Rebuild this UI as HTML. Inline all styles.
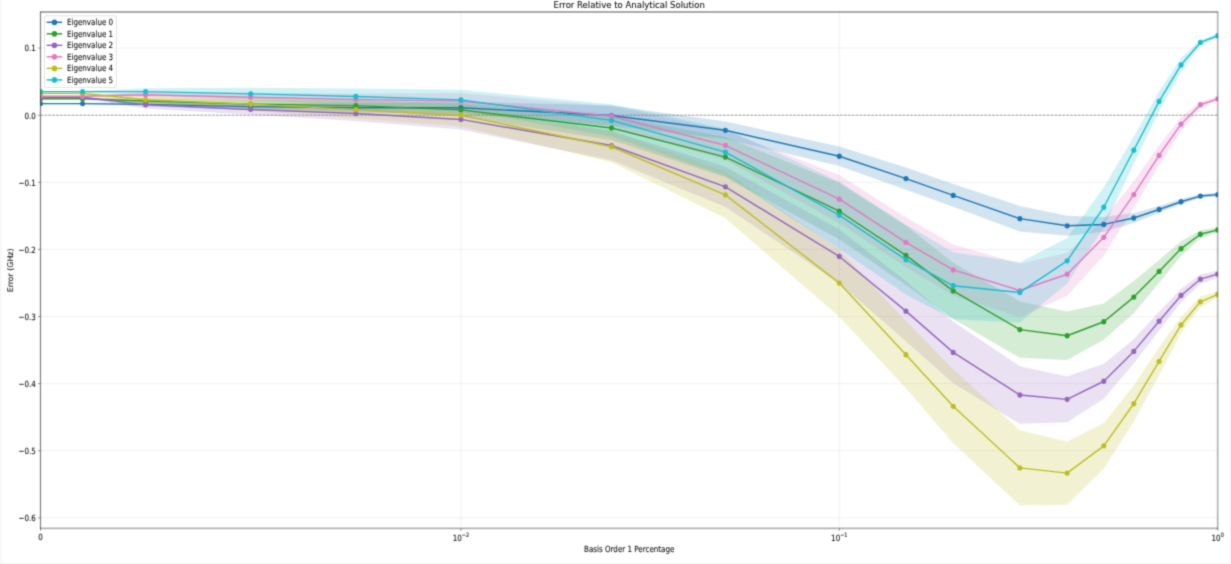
<!DOCTYPE html>
<html><head><meta charset="utf-8"><style>html,body{margin:0;padding:0;background:#fff;}svg{display:block;}</style></head>
<body><svg width="1231" height="564" viewBox="0 0 1231 564">
<defs><filter id="bl" filterUnits="userSpaceOnUse" x="0" y="0" width="1231" height="564" color-interpolation-filters="sRGB"><feConvolveMatrix order="5" kernelMatrix="0.00001 0.00096 0.00387 0.00096 0.00001 0.00096 0.06218 0.24935 0.06218 0.00096 0.00387 0.24935 1.00000 0.24935 0.00387 0.00096 0.06218 0.24935 0.06218 0.00096 0.00001 0.00096 0.00387 0.00096 0.00001" edgeMode="duplicate"/></filter></defs>
<g filter="url(#bl)">
<rect width="1231" height="564" fill="#fff"/>
<path d="M0.9 0V564M1230.4 0V564M0 563.4H1231" stroke="#f6f6f6" stroke-width="1.5" fill="none"/>
<defs><clipPath id="ax"><rect x="40.5" y="12.0" width="1177.2" height="516.3"/></clipPath></defs>
<path d="M40.5 48.10H1217.7 M40.5 115.20H1217.7 M40.5 182.30H1217.7 M40.5 249.40H1217.7 M40.5 316.50H1217.7 M40.5 383.60H1217.7 M40.5 450.70H1217.7 M40.5 517.80H1217.7 M460.93 12.0V528.3 M839.31 12.0V528.3" stroke="#b0b0b0" stroke-opacity="0.3" stroke-width="0.6" fill="none"/>
<g clip-path="url(#ax)">
<path d="M40.50 102.92 L82.54 102.92 L145.61 102.32 L250.71 103.26 L355.82 103.12 L460.93 101.65 L611.50 105.47 L725.41 121.57 L839.31 146.54 L905.94 167.54 L953.22 183.98 L1019.85 205.92 L1067.13 215.72 L1103.79 217.06 L1133.76 212.96 L1159.09 206.12 L1181.03 199.07 L1200.39 194.04 L1217.70 192.63 L1217.70 196.66 L1200.39 198.07 L1181.03 204.44 L1159.09 212.83 L1133.76 223.03 L1103.79 231.82 L1067.13 235.85 L1019.85 231.42 L953.22 206.79 L905.94 189.68 L839.31 165.99 L725.41 139.02 L611.50 125.60 L460.93 113.72 L355.82 112.52 L250.71 109.97 L145.61 106.34 L82.54 104.26 L40.50 104.26Z" fill="#1f77b4" fill-opacity="0.2"/>
<path d="M40.50 98.09 L82.54 98.09 L145.61 98.29 L250.71 100.10 L355.82 100.30 L460.93 103.19 L611.50 115.87 L725.41 136.94 L839.31 183.04 L905.94 225.85 L953.22 262.75 L1019.85 301.40 L1067.13 311.60 L1103.79 303.62 L1133.76 281.00 L1159.09 260.00 L1181.03 241.28 L1200.39 230.21 L1217.70 227.26 L1217.70 232.62 L1200.39 238.26 L1181.03 256.04 L1159.09 282.82 L1133.76 313.21 L1103.79 339.85 L1067.13 359.91 L1019.85 357.77 L953.22 319.12 L905.94 284.90 L839.31 239.40 L725.41 177.20 L611.50 140.03 L460.93 116.61 L355.82 111.04 L250.71 108.15 L145.61 103.66 L82.54 99.43 L40.50 99.43Z" fill="#2ca02c" fill-opacity="0.2"/>
<path d="M40.50 96.61 L82.54 96.61 L145.61 101.11 L250.71 104.06 L355.82 106.14 L460.93 109.36 L611.50 130.77 L725.41 166.67 L839.31 229.61 L905.94 280.94 L953.22 321.53 L1019.85 366.15 L1067.13 376.55 L1103.79 363.81 L1133.76 339.31 L1159.09 311.80 L1181.03 288.79 L1200.39 274.50 L1217.70 270.74 L1217.70 277.45 L1200.39 283.89 L1181.03 302.21 L1159.09 330.59 L1133.76 363.47 L1103.79 398.70 L1067.13 422.18 L1019.85 423.86 L953.22 383.26 L905.94 341.33 L839.31 283.29 L725.41 206.93 L611.50 160.29 L460.93 129.49 L355.82 120.90 L250.71 114.80 L145.61 108.49 L82.54 97.96 L40.50 97.96Z" fill="#9467bd" fill-opacity="0.2"/>
<path d="M40.50 95.61 L82.54 95.61 L145.61 92.05 L250.71 92.52 L355.82 93.53 L460.93 93.06 L611.50 106.21 L725.41 130.57 L839.31 175.05 L905.94 217.53 L953.22 244.43 L1019.85 263.69 L1067.13 252.75 L1103.79 219.20 L1133.76 181.29 L1159.09 145.33 L1181.03 117.41 L1200.39 101.38 L1217.70 96.81 L1217.70 100.84 L1200.39 108.09 L1181.03 130.83 L1159.09 165.46 L1133.76 208.13 L1103.79 255.44 L1067.13 295.70 L1019.85 317.37 L953.22 295.43 L905.94 267.18 L839.31 223.37 L725.41 160.09 L611.50 126.34 L460.93 109.16 L355.82 105.60 L250.71 101.91 L145.61 97.42 L82.54 96.95 L40.50 96.95Z" fill="#e377c2" fill-opacity="0.2"/>
<path d="M40.50 92.72 L82.54 92.72 L145.61 95.07 L250.71 97.42 L355.82 100.91 L460.93 103.79 L611.50 131.30 L725.41 171.36 L839.31 249.53 L905.94 321.20 L953.22 369.37 L1019.85 430.30 L1067.13 441.57 L1103.79 423.05 L1133.76 385.61 L1159.09 347.37 L1181.03 316.90 L1200.39 296.44 L1217.70 291.07 L1217.70 297.78 L1200.39 307.17 L1181.03 333.01 L1159.09 375.55 L1133.76 421.85 L1103.79 468.68 L1067.13 504.65 L1019.85 505.45 L953.22 443.18 L905.94 388.30 L839.31 316.63 L725.41 218.33 L611.50 162.17 L460.93 126.61 L355.82 118.35 L250.71 110.84 L145.61 104.46 L82.54 94.06 L40.50 94.06Z" fill="#bcbd22" fill-opacity="0.2"/>
<path d="M40.50 90.91 L82.54 90.91 L145.61 88.23 L250.71 87.82 L355.82 88.43 L460.93 89.77 L611.50 104.33 L725.41 128.69 L839.31 181.63 L905.94 224.77 L953.22 252.22 L1019.85 262.22 L1067.13 237.99 L1103.79 187.13 L1133.76 136.81 L1159.09 91.38 L1181.03 58.17 L1200.39 39.78 L1217.70 33.74 L1217.70 37.77 L1200.39 45.15 L1181.03 71.59 L1159.09 111.51 L1133.76 163.65 L1103.79 227.39 L1067.13 283.62 L1019.85 322.61 L953.22 319.32 L905.94 294.56 L839.31 248.73 L725.41 175.66 L611.50 136.54 L460.93 109.90 L355.82 104.53 L250.71 99.90 L145.61 94.94 L82.54 92.25 L40.50 92.25Z" fill="#17becf" fill-opacity="0.2"/>
<path d="M40.5 115.20H1217.7" stroke="#808080" stroke-width="0.75" stroke-dasharray="2.7 1.2" fill="none"/>
<path d="M40.50 103.59 L82.54 103.59 L145.61 104.33 L250.71 106.61 L355.82 107.82 L460.93 107.68 L611.50 115.54 L725.41 130.30 L839.31 156.27 L905.94 178.61 L953.22 195.38 L1019.85 218.67 L1067.13 225.78 L1103.79 224.44 L1133.76 218.00 L1159.09 209.48 L1181.03 201.76 L1200.39 196.06 L1217.70 194.65" stroke="#1f77b4" stroke-width="1.4" fill="none" stroke-linejoin="round"/>
<ellipse cx="40.50" cy="103.59" rx="2.5" ry="2.65" fill="#1f77b4"/>
<ellipse cx="82.54" cy="103.59" rx="2.5" ry="2.65" fill="#1f77b4"/>
<ellipse cx="145.61" cy="104.33" rx="2.5" ry="2.65" fill="#1f77b4"/>
<ellipse cx="250.71" cy="106.61" rx="2.5" ry="2.65" fill="#1f77b4"/>
<ellipse cx="355.82" cy="107.82" rx="2.5" ry="2.65" fill="#1f77b4"/>
<ellipse cx="460.93" cy="107.68" rx="2.5" ry="2.65" fill="#1f77b4"/>
<ellipse cx="611.50" cy="115.54" rx="2.5" ry="2.65" fill="#1f77b4"/>
<ellipse cx="725.41" cy="130.30" rx="2.5" ry="2.65" fill="#1f77b4"/>
<ellipse cx="839.31" cy="156.27" rx="2.5" ry="2.65" fill="#1f77b4"/>
<ellipse cx="905.94" cy="178.61" rx="2.5" ry="2.65" fill="#1f77b4"/>
<ellipse cx="953.22" cy="195.38" rx="2.5" ry="2.65" fill="#1f77b4"/>
<ellipse cx="1019.85" cy="218.67" rx="2.5" ry="2.65" fill="#1f77b4"/>
<ellipse cx="1067.13" cy="225.78" rx="2.5" ry="2.65" fill="#1f77b4"/>
<ellipse cx="1103.79" cy="224.44" rx="2.5" ry="2.65" fill="#1f77b4"/>
<ellipse cx="1133.76" cy="218.00" rx="2.5" ry="2.65" fill="#1f77b4"/>
<ellipse cx="1159.09" cy="209.48" rx="2.5" ry="2.65" fill="#1f77b4"/>
<ellipse cx="1181.03" cy="201.76" rx="2.5" ry="2.65" fill="#1f77b4"/>
<ellipse cx="1200.39" cy="196.06" rx="2.5" ry="2.65" fill="#1f77b4"/>
<ellipse cx="1217.70" cy="194.65" rx="2.5" ry="2.65" fill="#1f77b4"/>
<path d="M40.50 98.76 L82.54 98.76 L145.61 100.97 L250.71 104.13 L355.82 105.67 L460.93 109.90 L611.50 127.95 L725.41 157.07 L839.31 211.22 L905.94 255.37 L953.22 290.93 L1019.85 329.58 L1067.13 335.76 L1103.79 321.73 L1133.76 297.11 L1159.09 271.41 L1181.03 248.66 L1200.39 234.24 L1217.70 229.94" stroke="#2ca02c" stroke-width="1.4" fill="none" stroke-linejoin="round"/>
<ellipse cx="40.50" cy="98.76" rx="2.5" ry="2.65" fill="#2ca02c"/>
<ellipse cx="82.54" cy="98.76" rx="2.5" ry="2.65" fill="#2ca02c"/>
<ellipse cx="145.61" cy="100.97" rx="2.5" ry="2.65" fill="#2ca02c"/>
<ellipse cx="250.71" cy="104.13" rx="2.5" ry="2.65" fill="#2ca02c"/>
<ellipse cx="355.82" cy="105.67" rx="2.5" ry="2.65" fill="#2ca02c"/>
<ellipse cx="460.93" cy="109.90" rx="2.5" ry="2.65" fill="#2ca02c"/>
<ellipse cx="611.50" cy="127.95" rx="2.5" ry="2.65" fill="#2ca02c"/>
<ellipse cx="725.41" cy="157.07" rx="2.5" ry="2.65" fill="#2ca02c"/>
<ellipse cx="839.31" cy="211.22" rx="2.5" ry="2.65" fill="#2ca02c"/>
<ellipse cx="905.94" cy="255.37" rx="2.5" ry="2.65" fill="#2ca02c"/>
<ellipse cx="953.22" cy="290.93" rx="2.5" ry="2.65" fill="#2ca02c"/>
<ellipse cx="1019.85" cy="329.58" rx="2.5" ry="2.65" fill="#2ca02c"/>
<ellipse cx="1067.13" cy="335.76" rx="2.5" ry="2.65" fill="#2ca02c"/>
<ellipse cx="1103.79" cy="321.73" rx="2.5" ry="2.65" fill="#2ca02c"/>
<ellipse cx="1133.76" cy="297.11" rx="2.5" ry="2.65" fill="#2ca02c"/>
<ellipse cx="1159.09" cy="271.41" rx="2.5" ry="2.65" fill="#2ca02c"/>
<ellipse cx="1181.03" cy="248.66" rx="2.5" ry="2.65" fill="#2ca02c"/>
<ellipse cx="1200.39" cy="234.24" rx="2.5" ry="2.65" fill="#2ca02c"/>
<ellipse cx="1217.70" cy="229.94" rx="2.5" ry="2.65" fill="#2ca02c"/>
<path d="M40.50 97.28 L82.54 97.28 L145.61 104.80 L250.71 109.43 L355.82 113.52 L460.93 119.43 L611.50 145.53 L725.41 186.80 L839.31 256.45 L905.94 311.13 L953.22 352.40 L1019.85 395.01 L1067.13 399.37 L1103.79 381.25 L1133.76 351.39 L1159.09 321.20 L1181.03 295.50 L1200.39 279.19 L1217.70 274.09" stroke="#9467bd" stroke-width="1.4" fill="none" stroke-linejoin="round"/>
<ellipse cx="40.50" cy="97.28" rx="2.5" ry="2.65" fill="#9467bd"/>
<ellipse cx="82.54" cy="97.28" rx="2.5" ry="2.65" fill="#9467bd"/>
<ellipse cx="145.61" cy="104.80" rx="2.5" ry="2.65" fill="#9467bd"/>
<ellipse cx="250.71" cy="109.43" rx="2.5" ry="2.65" fill="#9467bd"/>
<ellipse cx="355.82" cy="113.52" rx="2.5" ry="2.65" fill="#9467bd"/>
<ellipse cx="460.93" cy="119.43" rx="2.5" ry="2.65" fill="#9467bd"/>
<ellipse cx="611.50" cy="145.53" rx="2.5" ry="2.65" fill="#9467bd"/>
<ellipse cx="725.41" cy="186.80" rx="2.5" ry="2.65" fill="#9467bd"/>
<ellipse cx="839.31" cy="256.45" rx="2.5" ry="2.65" fill="#9467bd"/>
<ellipse cx="905.94" cy="311.13" rx="2.5" ry="2.65" fill="#9467bd"/>
<ellipse cx="953.22" cy="352.40" rx="2.5" ry="2.65" fill="#9467bd"/>
<ellipse cx="1019.85" cy="395.01" rx="2.5" ry="2.65" fill="#9467bd"/>
<ellipse cx="1067.13" cy="399.37" rx="2.5" ry="2.65" fill="#9467bd"/>
<ellipse cx="1103.79" cy="381.25" rx="2.5" ry="2.65" fill="#9467bd"/>
<ellipse cx="1133.76" cy="351.39" rx="2.5" ry="2.65" fill="#9467bd"/>
<ellipse cx="1159.09" cy="321.20" rx="2.5" ry="2.65" fill="#9467bd"/>
<ellipse cx="1181.03" cy="295.50" rx="2.5" ry="2.65" fill="#9467bd"/>
<ellipse cx="1200.39" cy="279.19" rx="2.5" ry="2.65" fill="#9467bd"/>
<ellipse cx="1217.70" cy="274.09" rx="2.5" ry="2.65" fill="#9467bd"/>
<path d="M40.50 96.28 L82.54 96.28 L145.61 94.73 L250.71 97.22 L355.82 99.57 L460.93 101.11 L611.50 116.27 L725.41 145.33 L839.31 199.21 L905.94 242.35 L953.22 269.93 L1019.85 290.53 L1067.13 274.23 L1103.79 237.32 L1133.76 194.71 L1159.09 155.39 L1181.03 124.12 L1200.39 104.73 L1217.70 98.83" stroke="#e377c2" stroke-width="1.4" fill="none" stroke-linejoin="round"/>
<ellipse cx="40.50" cy="96.28" rx="2.5" ry="2.65" fill="#e377c2"/>
<ellipse cx="82.54" cy="96.28" rx="2.5" ry="2.65" fill="#e377c2"/>
<ellipse cx="145.61" cy="94.73" rx="2.5" ry="2.65" fill="#e377c2"/>
<ellipse cx="250.71" cy="97.22" rx="2.5" ry="2.65" fill="#e377c2"/>
<ellipse cx="355.82" cy="99.57" rx="2.5" ry="2.65" fill="#e377c2"/>
<ellipse cx="460.93" cy="101.11" rx="2.5" ry="2.65" fill="#e377c2"/>
<ellipse cx="611.50" cy="116.27" rx="2.5" ry="2.65" fill="#e377c2"/>
<ellipse cx="725.41" cy="145.33" rx="2.5" ry="2.65" fill="#e377c2"/>
<ellipse cx="839.31" cy="199.21" rx="2.5" ry="2.65" fill="#e377c2"/>
<ellipse cx="905.94" cy="242.35" rx="2.5" ry="2.65" fill="#e377c2"/>
<ellipse cx="953.22" cy="269.93" rx="2.5" ry="2.65" fill="#e377c2"/>
<ellipse cx="1019.85" cy="290.53" rx="2.5" ry="2.65" fill="#e377c2"/>
<ellipse cx="1067.13" cy="274.23" rx="2.5" ry="2.65" fill="#e377c2"/>
<ellipse cx="1103.79" cy="237.32" rx="2.5" ry="2.65" fill="#e377c2"/>
<ellipse cx="1133.76" cy="194.71" rx="2.5" ry="2.65" fill="#e377c2"/>
<ellipse cx="1159.09" cy="155.39" rx="2.5" ry="2.65" fill="#e377c2"/>
<ellipse cx="1181.03" cy="124.12" rx="2.5" ry="2.65" fill="#e377c2"/>
<ellipse cx="1200.39" cy="104.73" rx="2.5" ry="2.65" fill="#e377c2"/>
<ellipse cx="1217.70" cy="98.83" rx="2.5" ry="2.65" fill="#e377c2"/>
<path d="M40.50 93.39 L82.54 93.39 L145.61 99.77 L250.71 104.13 L355.82 109.63 L460.93 115.20 L611.50 146.74 L725.41 194.85 L839.31 283.08 L905.94 354.75 L953.22 406.28 L1019.85 467.88 L1067.13 473.11 L1103.79 445.87 L1133.76 403.73 L1159.09 361.46 L1181.03 324.95 L1200.39 301.81 L1217.70 294.42" stroke="#bcbd22" stroke-width="1.4" fill="none" stroke-linejoin="round"/>
<ellipse cx="40.50" cy="93.39" rx="2.5" ry="2.65" fill="#bcbd22"/>
<ellipse cx="82.54" cy="93.39" rx="2.5" ry="2.65" fill="#bcbd22"/>
<ellipse cx="145.61" cy="99.77" rx="2.5" ry="2.65" fill="#bcbd22"/>
<ellipse cx="250.71" cy="104.13" rx="2.5" ry="2.65" fill="#bcbd22"/>
<ellipse cx="355.82" cy="109.63" rx="2.5" ry="2.65" fill="#bcbd22"/>
<ellipse cx="460.93" cy="115.20" rx="2.5" ry="2.65" fill="#bcbd22"/>
<ellipse cx="611.50" cy="146.74" rx="2.5" ry="2.65" fill="#bcbd22"/>
<ellipse cx="725.41" cy="194.85" rx="2.5" ry="2.65" fill="#bcbd22"/>
<ellipse cx="839.31" cy="283.08" rx="2.5" ry="2.65" fill="#bcbd22"/>
<ellipse cx="905.94" cy="354.75" rx="2.5" ry="2.65" fill="#bcbd22"/>
<ellipse cx="953.22" cy="406.28" rx="2.5" ry="2.65" fill="#bcbd22"/>
<ellipse cx="1019.85" cy="467.88" rx="2.5" ry="2.65" fill="#bcbd22"/>
<ellipse cx="1067.13" cy="473.11" rx="2.5" ry="2.65" fill="#bcbd22"/>
<ellipse cx="1103.79" cy="445.87" rx="2.5" ry="2.65" fill="#bcbd22"/>
<ellipse cx="1133.76" cy="403.73" rx="2.5" ry="2.65" fill="#bcbd22"/>
<ellipse cx="1159.09" cy="361.46" rx="2.5" ry="2.65" fill="#bcbd22"/>
<ellipse cx="1181.03" cy="324.95" rx="2.5" ry="2.65" fill="#bcbd22"/>
<ellipse cx="1200.39" cy="301.81" rx="2.5" ry="2.65" fill="#bcbd22"/>
<ellipse cx="1217.70" cy="294.42" rx="2.5" ry="2.65" fill="#bcbd22"/>
<path d="M40.50 91.58 L82.54 91.58 L145.61 91.58 L250.71 93.86 L355.82 96.48 L460.93 99.83 L611.50 120.43 L725.41 152.17 L839.31 215.18 L905.94 259.67 L953.22 285.77 L1019.85 292.41 L1067.13 260.81 L1103.79 207.26 L1133.76 150.23 L1159.09 101.44 L1181.03 64.88 L1200.39 42.46 L1217.70 35.75" stroke="#17becf" stroke-width="1.4" fill="none" stroke-linejoin="round"/>
<ellipse cx="40.50" cy="91.58" rx="2.5" ry="2.65" fill="#17becf"/>
<ellipse cx="82.54" cy="91.58" rx="2.5" ry="2.65" fill="#17becf"/>
<ellipse cx="145.61" cy="91.58" rx="2.5" ry="2.65" fill="#17becf"/>
<ellipse cx="250.71" cy="93.86" rx="2.5" ry="2.65" fill="#17becf"/>
<ellipse cx="355.82" cy="96.48" rx="2.5" ry="2.65" fill="#17becf"/>
<ellipse cx="460.93" cy="99.83" rx="2.5" ry="2.65" fill="#17becf"/>
<ellipse cx="611.50" cy="120.43" rx="2.5" ry="2.65" fill="#17becf"/>
<ellipse cx="725.41" cy="152.17" rx="2.5" ry="2.65" fill="#17becf"/>
<ellipse cx="839.31" cy="215.18" rx="2.5" ry="2.65" fill="#17becf"/>
<ellipse cx="905.94" cy="259.67" rx="2.5" ry="2.65" fill="#17becf"/>
<ellipse cx="953.22" cy="285.77" rx="2.5" ry="2.65" fill="#17becf"/>
<ellipse cx="1019.85" cy="292.41" rx="2.5" ry="2.65" fill="#17becf"/>
<ellipse cx="1067.13" cy="260.81" rx="2.5" ry="2.65" fill="#17becf"/>
<ellipse cx="1103.79" cy="207.26" rx="2.5" ry="2.65" fill="#17becf"/>
<ellipse cx="1133.76" cy="150.23" rx="2.5" ry="2.65" fill="#17becf"/>
<ellipse cx="1159.09" cy="101.44" rx="2.5" ry="2.65" fill="#17becf"/>
<ellipse cx="1181.03" cy="64.88" rx="2.5" ry="2.65" fill="#17becf"/>
<ellipse cx="1200.39" cy="42.46" rx="2.5" ry="2.65" fill="#17becf"/>
<ellipse cx="1217.70" cy="35.75" rx="2.5" ry="2.65" fill="#17becf"/>
</g>
<path d="M40.5 12.0H1217.7" stroke="#000" stroke-opacity="0.45" stroke-width="1.3"/>
<path d="M40.5 11.4V528.9" stroke="#000" stroke-opacity="0.5" stroke-width="1.2"/>
<path d="M1217.7 11.4V528.9" stroke="#000" stroke-opacity="0.28" stroke-width="1.8"/>
<path d="M40.5 528.3H1217.7" stroke="#000" stroke-opacity="0.3" stroke-width="1.8"/>
<path d="M38.0 48.10H40.5 M38.0 115.20H40.5 M38.0 182.30H40.5 M38.0 249.40H40.5 M38.0 316.50H40.5 M38.0 383.60H40.5 M38.0 450.70H40.5 M38.0 517.80H40.5 M40.50 528.3V530.8 M460.93 528.3V530.8 M839.31 528.3V530.8 M1217.70 528.3V530.8" stroke="#000" stroke-opacity="0.5" stroke-width="0.8" fill="none"/>
<text transform="translate(35.80 51.40) scale(1 1.1990)" font-size="7.15" font-family="'DejaVu Sans', 'Liberation Sans', sans-serif" stroke="#000" stroke-width="0.18" stroke-opacity="0.45" text-anchor="end" fill="#111">0.1</text>
<text transform="translate(35.80 118.50) scale(1 1.1990)" font-size="7.15" font-family="'DejaVu Sans', 'Liberation Sans', sans-serif" stroke="#000" stroke-width="0.18" stroke-opacity="0.45" text-anchor="end" fill="#111">0.0</text>
<text transform="translate(35.80 185.60) scale(1 1.1990)" font-size="7.15" font-family="'DejaVu Sans', 'Liberation Sans', sans-serif" stroke="#000" stroke-width="0.18" stroke-opacity="0.45" text-anchor="end" fill="#111">−0.1</text>
<text transform="translate(35.80 252.70) scale(1 1.1990)" font-size="7.15" font-family="'DejaVu Sans', 'Liberation Sans', sans-serif" stroke="#000" stroke-width="0.18" stroke-opacity="0.45" text-anchor="end" fill="#111">−0.2</text>
<text transform="translate(35.80 319.80) scale(1 1.1990)" font-size="7.15" font-family="'DejaVu Sans', 'Liberation Sans', sans-serif" stroke="#000" stroke-width="0.18" stroke-opacity="0.45" text-anchor="end" fill="#111">−0.3</text>
<text transform="translate(35.80 386.90) scale(1 1.1990)" font-size="7.15" font-family="'DejaVu Sans', 'Liberation Sans', sans-serif" stroke="#000" stroke-width="0.18" stroke-opacity="0.45" text-anchor="end" fill="#111">−0.4</text>
<text transform="translate(35.80 454.00) scale(1 1.1990)" font-size="7.15" font-family="'DejaVu Sans', 'Liberation Sans', sans-serif" stroke="#000" stroke-width="0.18" stroke-opacity="0.45" text-anchor="end" fill="#111">−0.5</text>
<text transform="translate(35.80 521.10) scale(1 1.1990)" font-size="7.15" font-family="'DejaVu Sans', 'Liberation Sans', sans-serif" stroke="#000" stroke-width="0.18" stroke-opacity="0.45" text-anchor="end" fill="#111">−0.6</text>
<text transform="translate(40.50 539.80) scale(1 1.1990)" font-size="7.15" font-family="'DejaVu Sans', 'Liberation Sans', sans-serif" stroke="#000" stroke-width="0.18" stroke-opacity="0.45" text-anchor="middle" fill="#111">0</text>
<text transform="translate(460.93 541.20) scale(1 1.1990)" font-size="7.15" font-family="'DejaVu Sans', 'Liberation Sans', sans-serif" stroke="#000" stroke-width="0.18" stroke-opacity="0.45" text-anchor="middle" fill="#111">10<tspan font-size="5.00" dy="-3.6">−2</tspan></text>
<text transform="translate(839.31 541.20) scale(1 1.1990)" font-size="7.15" font-family="'DejaVu Sans', 'Liberation Sans', sans-serif" stroke="#000" stroke-width="0.18" stroke-opacity="0.45" text-anchor="middle" fill="#111">10<tspan font-size="5.00" dy="-3.6">−1</tspan></text>
<text transform="translate(1217.70 541.20) scale(1 1.1990)" font-size="7.15" font-family="'DejaVu Sans', 'Liberation Sans', sans-serif" stroke="#000" stroke-width="0.18" stroke-opacity="0.45" text-anchor="middle" fill="#111">10<tspan font-size="5.00" dy="-3.6">0</tspan></text>
<text transform="translate(629.20 552.40) scale(1 1.1990)" font-size="7.15" font-family="'DejaVu Sans', 'Liberation Sans', sans-serif" stroke="#000" stroke-width="0.18" stroke-opacity="0.45" text-anchor="middle" fill="#111">Basis Order 1 Percentage</text>
<text transform="translate(13.10 270.40) scale(1.09 1.1)  rotate(-90)" font-size="7.15" font-family="'DejaVu Sans', 'Liberation Sans', sans-serif" stroke="#000" stroke-width="0.18" stroke-opacity="0.45" text-anchor="middle" fill="#111">Error (GHz)</text>
<text transform="translate(629.20 7.90) scale(1 1.1000)" font-size="8.55" font-family="'DejaVu Sans', 'Liberation Sans', sans-serif" stroke="#000" stroke-width="0.18" stroke-opacity="0.45" text-anchor="middle" fill="#111">Error Relative to Analytical Solution</text>
<rect x="44.6" y="15.8" width="71.8" height="71.6" rx="1.4" fill="#fff" fill-opacity="0.8" stroke="#ccc" stroke-width="0.6"/>
<path d="M46.7 22.30H62.2" stroke="#1f77b4" stroke-width="1.5"/>
<ellipse cx="54.45" cy="22.30" rx="2.75" ry="2.9" fill="#1f77b4"/>
<text transform="translate(66.90 25.05) scale(1 1.1990)" font-size="7.15" font-family="'DejaVu Sans', 'Liberation Sans', sans-serif" stroke="#000" stroke-width="0.18" stroke-opacity="0.45" fill="#111">Eigenvalue 0</text>
<path d="M46.7 33.82H62.2" stroke="#2ca02c" stroke-width="1.5"/>
<ellipse cx="54.45" cy="33.82" rx="2.75" ry="2.9" fill="#2ca02c"/>
<text transform="translate(66.90 36.57) scale(1 1.1990)" font-size="7.15" font-family="'DejaVu Sans', 'Liberation Sans', sans-serif" stroke="#000" stroke-width="0.18" stroke-opacity="0.45" fill="#111">Eigenvalue 1</text>
<path d="M46.7 45.34H62.2" stroke="#9467bd" stroke-width="1.5"/>
<ellipse cx="54.45" cy="45.34" rx="2.75" ry="2.9" fill="#9467bd"/>
<text transform="translate(66.90 48.09) scale(1 1.1990)" font-size="7.15" font-family="'DejaVu Sans', 'Liberation Sans', sans-serif" stroke="#000" stroke-width="0.18" stroke-opacity="0.45" fill="#111">Eigenvalue 2</text>
<path d="M46.7 56.86H62.2" stroke="#e377c2" stroke-width="1.5"/>
<ellipse cx="54.45" cy="56.86" rx="2.75" ry="2.9" fill="#e377c2"/>
<text transform="translate(66.90 59.61) scale(1 1.1990)" font-size="7.15" font-family="'DejaVu Sans', 'Liberation Sans', sans-serif" stroke="#000" stroke-width="0.18" stroke-opacity="0.45" fill="#111">Eigenvalue 3</text>
<path d="M46.7 68.38H62.2" stroke="#bcbd22" stroke-width="1.5"/>
<ellipse cx="54.45" cy="68.38" rx="2.75" ry="2.9" fill="#bcbd22"/>
<text transform="translate(66.90 71.13) scale(1 1.1990)" font-size="7.15" font-family="'DejaVu Sans', 'Liberation Sans', sans-serif" stroke="#000" stroke-width="0.18" stroke-opacity="0.45" fill="#111">Eigenvalue 4</text>
<path d="M46.7 79.90H62.2" stroke="#17becf" stroke-width="1.5"/>
<ellipse cx="54.45" cy="79.90" rx="2.75" ry="2.9" fill="#17becf"/>
<text transform="translate(66.90 82.65) scale(1 1.1990)" font-size="7.15" font-family="'DejaVu Sans', 'Liberation Sans', sans-serif" stroke="#000" stroke-width="0.18" stroke-opacity="0.45" fill="#111">Eigenvalue 5</text>
</g></svg></body></html>
